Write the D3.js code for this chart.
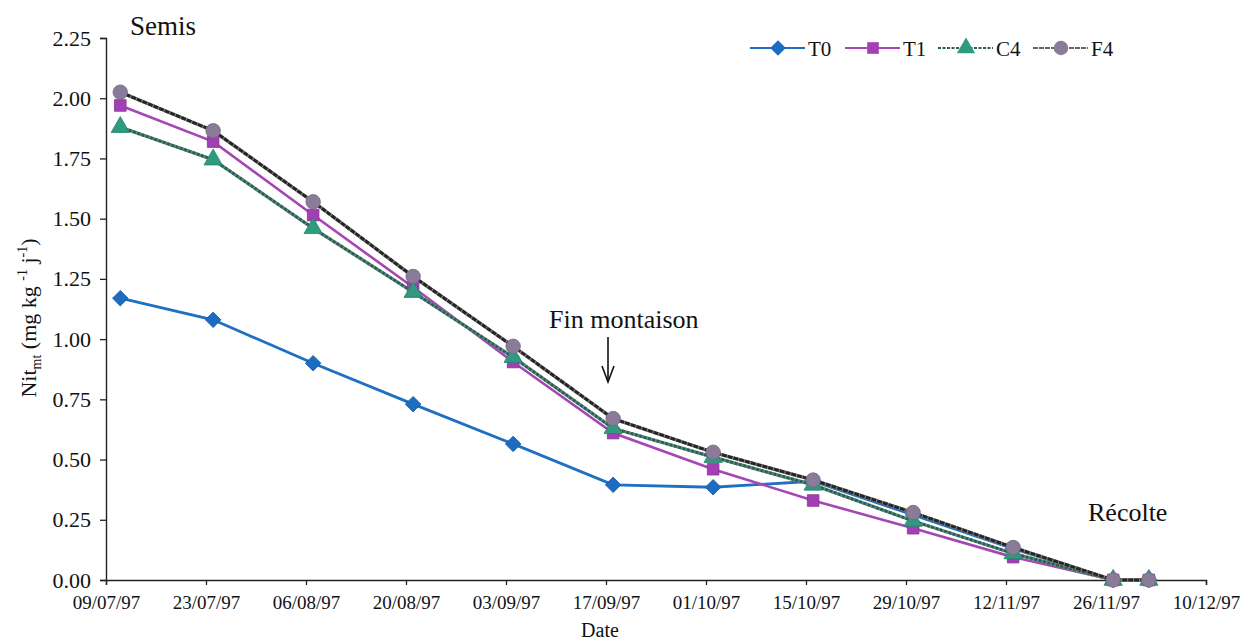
<!DOCTYPE html>
<html><head><meta charset="utf-8">
<script src="https://cdn.jsdelivr.net/npm/d3@7"></script>
<style>body{margin:0;background:#fff}svg{display:block}svg text{font-family:"Liberation Serif","Times New Roman","DejaVu Serif",serif !important;fill:#111}</style>
</head><body><svg id="c" width="1240" height="644"></svg>
<script>
const dates = ["11/07/97","24/07/97","07/08/97","21/08/97","04/09/97","18/09/97","02/10/97","16/10/97","30/10/97","13/11/97","27/11/97","02/12/97"];
const tickDates = ["09/07/97","23/07/97","06/08/97","20/08/97","03/09/97","17/09/97","01/10/97","15/10/97","29/10/97","12/11/97","26/11/97","10/12/97"];
const yTicks = [0,0.25,0.5,0.75,1,1.25,1.5,1.75,2,2.25];
const T0 = [1.17,1.08,0.90,0.73,0.565,0.395,0.385,0.41,0.27,0.13,0,0];
const T1 = [1.97,1.82,1.515,1.215,0.905,0.61,0.46,0.33,0.215,0.095,0,0];
const C4 = [1.88,1.745,1.46,1.195,0.925,0.63,0.51,0.395,0.245,0.11,0,0];
const F4 = [2.025,1.865,1.57,1.26,0.97,0.67,0.53,0.415,0.28,0.135,0,0];
const seriesNames = ["T0","T1","C4","F4"];

const parse = d3.timeParse("%d/%m/%y");
const fmt = d3.timeFormat("%d/%m/%y");
const svg = d3.select("#c");
const x = d3.scaleTime().domain([parse("09/07/97"), parse("10/12/97")]).range([106,1206]);
const y = d3.scaleLinear().domain([0,2.25]).range([580,38]);

const styles = {
  T0:{line:"#1f6fc2",w:2.8,dash:null,fill:"#1c6cc4",sym:d3.symbolSquare,rot:45,size:120},
  T1:{line:"#a546b5",w:2.6,dash:null,fill:"#a23fb2",sym:d3.symbolSquare,rot:0,size:135},
  C4:{line:"#2d5e52",w:2.8,dash:"3,1.5",fill:"#2e9a7e",sym:d3.symbolTriangle,rot:0,size:145},
  F4:{line:"#262626",w:3,dash:"5,1",fill:"#8a7b98",sym:d3.symbolCircle,rot:0,size:165}
};
const data = {T0,T1,C4,F4};

// axes
const yAxis = d3.axisLeft(y).tickValues(yTicks).tickFormat(d3.format(".2f")).tickSize(6).tickPadding(9);
const gy = svg.append("g").attr("transform","translate(106,0)").call(yAxis);
gy.selectAll("text").style("font-size","22px");
const xAxis = d3.axisBottom(x).tickValues(tickDates.map(parse)).tickFormat(fmt).tickSize(5).tickPadding(11);
const gx = svg.append("g").attr("transform","translate(0,580)").call(xAxis);
gx.selectAll("text").style("font-size","19px");
svg.selectAll(".domain").attr("stroke","#222").attr("stroke-width",1.4);
svg.selectAll(".tick line").attr("stroke","#222").attr("stroke-width",1.3);

// series
const line = d3.line().x((d,i)=>x(parse(dates[i]))).y(d=>y(d));
seriesNames.forEach(n=>{
  const s = styles[n];
  if(n==="F4"||n==="C4"){
    svg.append("path").datum(data[n]).attr("d",line).attr("fill","none")
      .attr("stroke", n==="F4"?"#8a8a8a":"#5a8f80").attr("stroke-width",s.w+0.5);
  }
  svg.append("path").datum(data[n]).attr("d",line).attr("fill","none")
    .attr("stroke",s.line).attr("stroke-width",s.w).attr("stroke-dasharray",s.dash);
});
seriesNames.forEach(n=>{
  const s = styles[n];
  svg.append("g").selectAll("path").data(data[n]).join("path")
    .attr("transform",(d,i)=>`translate(${x(parse(dates[i]))},${y(d)}) rotate(${s.rot})`)
    .attr("d",d3.symbol().type(s.sym).size(s.size)).attr("fill",s.fill)
    .attr("stroke",d3.color(s.fill).darker(0.5)).attr("stroke-width",0.8);
});

// legend
const leg = [{n:"T0",x:750},{n:"T1",x:845},{n:"C4",x:938},{n:"F4",x:1033}];
leg.forEach(l=>{
  const s = styles[l.n];
  const g = svg.append("g").attr("transform",`translate(${l.x},48)`);
  g.append("line").attr("x1",0).attr("x2",55).attr("stroke", l.n==="F4"?"#666":s.line)
    .attr("stroke-width",2.2).attr("stroke-dasharray",s.dash);
  g.append("path").attr("transform",`translate(28,0) rotate(${s.rot})`).attr("d",d3.symbol().type(s.sym).size(s.size)).attr("fill",s.fill);
  g.append("text").attr("x",58).attr("y",8).style("font-size","21px").text(l.n);
});

// annotations
svg.append("text").attr("x",130).attr("y",35).style("font-size","27px").text("Semis");
svg.append("text").attr("x",549).attr("y",328).style("font-size","26px").text("Fin montaison");
svg.append("line").attr("x1",608).attr("x2",608).attr("y1",337).attr("y2",380).attr("stroke","#111").attr("stroke-width",1.6);
svg.append("path").attr("d","M602,366 L608,382 L614,366").attr("fill","none").attr("stroke","#111").attr("stroke-width",1.6);
svg.append("text").attr("x",1088).attr("y",521).style("font-size","26px").text("Récolte");
svg.append("text").attr("x",600).attr("y",637).attr("text-anchor","middle").style("font-size","20px").text("Date");

// y label
const yl = svg.append("text").attr("transform","translate(36,318) rotate(-90)").attr("text-anchor","middle").style("font-size","22px");
yl.append("tspan").text("Nit");
yl.append("tspan").attr("dy",5).style("font-size","14px").text("mt");
yl.append("tspan").attr("dy",-5).text(" (mg kg ");
yl.append("tspan").attr("dy",-9).style("font-size","14px").text("-1");
yl.append("tspan").attr("dy",9).text(" j");
yl.append("tspan").attr("dy",-9).style("font-size","14px").text("-1");
yl.append("tspan").attr("dy",9).text(")");
</script></body></html>
